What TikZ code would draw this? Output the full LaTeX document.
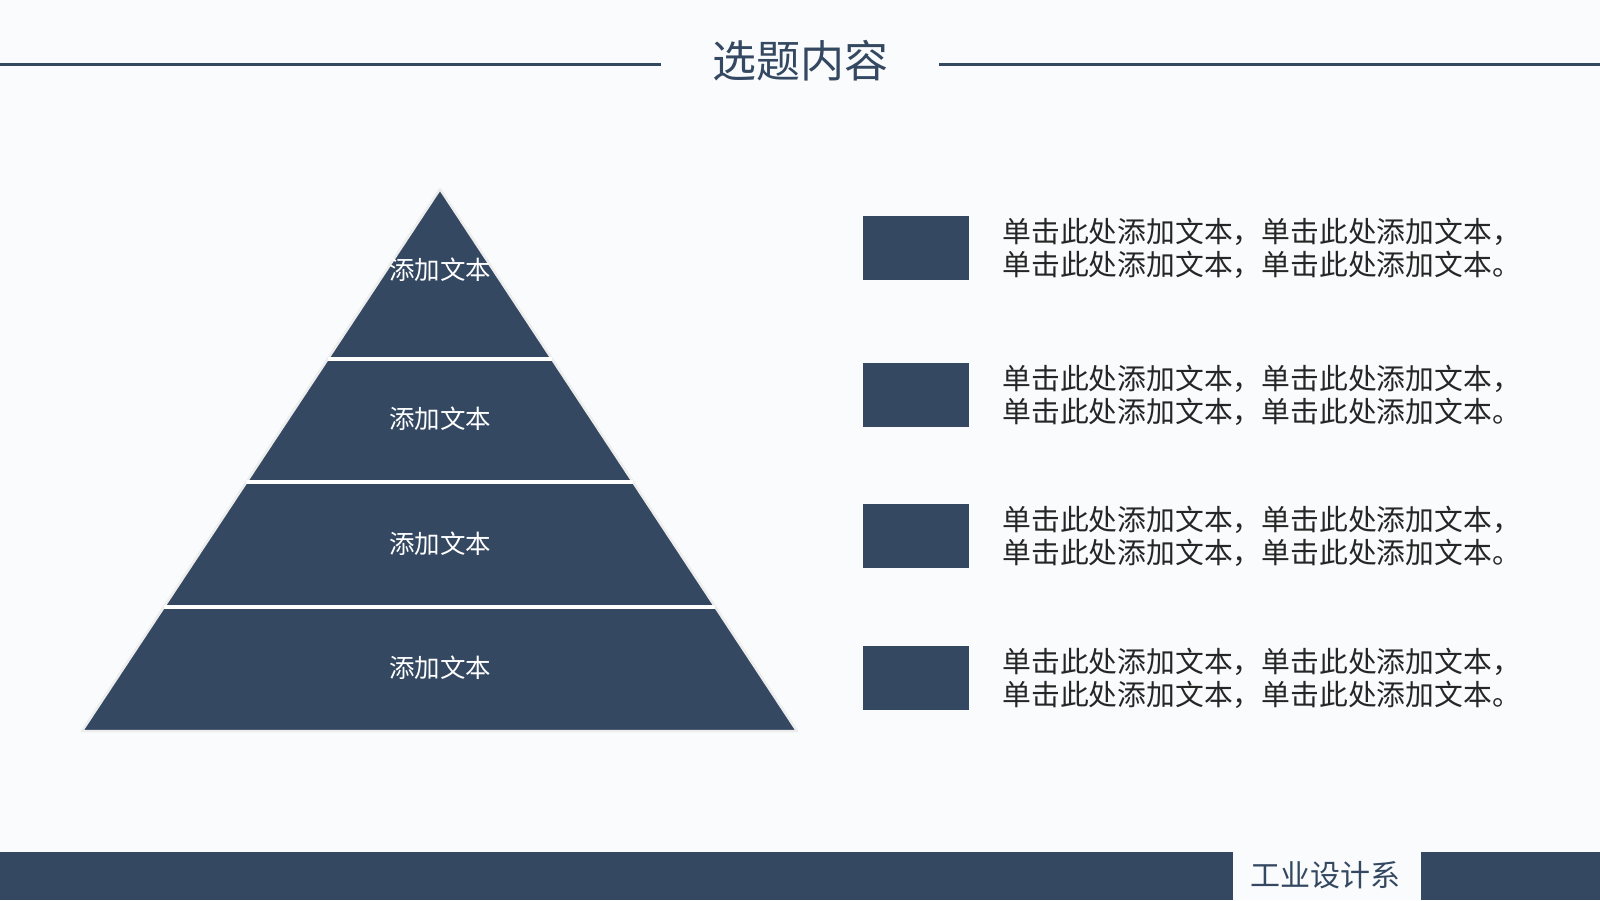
\documentclass[tikz,border=0pt]{standalone}
\usepackage{fontspec}
\newfontfamily\cjk{Noto Sans CJK SC}
\usepackage{tikz}
\usetikzlibrary{calc,positioning}
\definecolor{navy}{RGB}{52,72,98}
\definecolor{paper}{RGB}{250,251,252}
\tikzstyle{band}=[fill=navy,draw=black!7,line width=2.5pt,line join=round]
\tikzstyle{gap}=[draw=white,line width=4pt]
\tikzstyle{bar}=[draw=navy,line width=3pt]
\tikzstyle{lbl}=[text=white,inner sep=0,font=\cjk\fontsize{25.5}{30}\selectfont]
\tikzstyle{Abox}=[fill=navy,minimum width=106pt,minimum height=64pt,inner sep=0]
\tikzstyle{Atxt}=[align=left,inner sep=0,text=black!85,font=\cjk\fontsize{28.8}{33}\selectfont]
\newcommand{\blurb}[2]{\node[Abox] (#1) at (916,#2) {};\node[Atxt,right=33pt of #1] (#1t) {单击此处添加文本，单击此处添加文本，\\单击此处添加文本，单击此处添加文本。};}

\begin{document}
\begin{tikzpicture}[x=1pt,y=-1pt]
	\fill[paper] (0,0) rectangle (1600,900);
	\useasboundingbox (0,0) rectangle (1600,900);
	% title
	\node[text=navy,inner sep=0,font=\cjk\fontsize{44}{50}\selectfont] (title) at (800,61) {选题内容};
	\draw[bar] (0,64) -- (661,64);
	\draw[bar] (939,64) -- (1600,64);
	% pyramid
	\coordinate (top) at (440,189);
	\coordinate (bl) at (82,731);
	\coordinate (br) at (797,731);
	\path[band] (top) -- (bl) -- (br) -- cycle;
	\foreach \t in {0.3137,0.5406,0.7712}
		\draw[gap] ($(top)!\t!(bl)$) -- ($(top)!\t!(br)$);
	\node[lbl] (lay1) at (440,270) {添加文本};
	\node[lbl] (lay2) at (440,419) {添加文本};
	\node[lbl] (lay3) at (440,544) {添加文本};
	\node[lbl] (lay4) at (440,668) {添加文本};
	% text blocks
	\blurb{b1}{248};
	\blurb{b2}{395};
	\blurb{b3}{536};
	\blurb{b4}{678};
	% footer
	\fill[navy] (0,852) rectangle (1233,900);
	\fill[navy] (1421,852) rectangle (1600,900);
	\node[text=navy,inner sep=0,font=\cjk\fontsize{30}{36}\selectfont] (dept) at (1325,875) {工业设计系};
\end{tikzpicture}
\end{document}
